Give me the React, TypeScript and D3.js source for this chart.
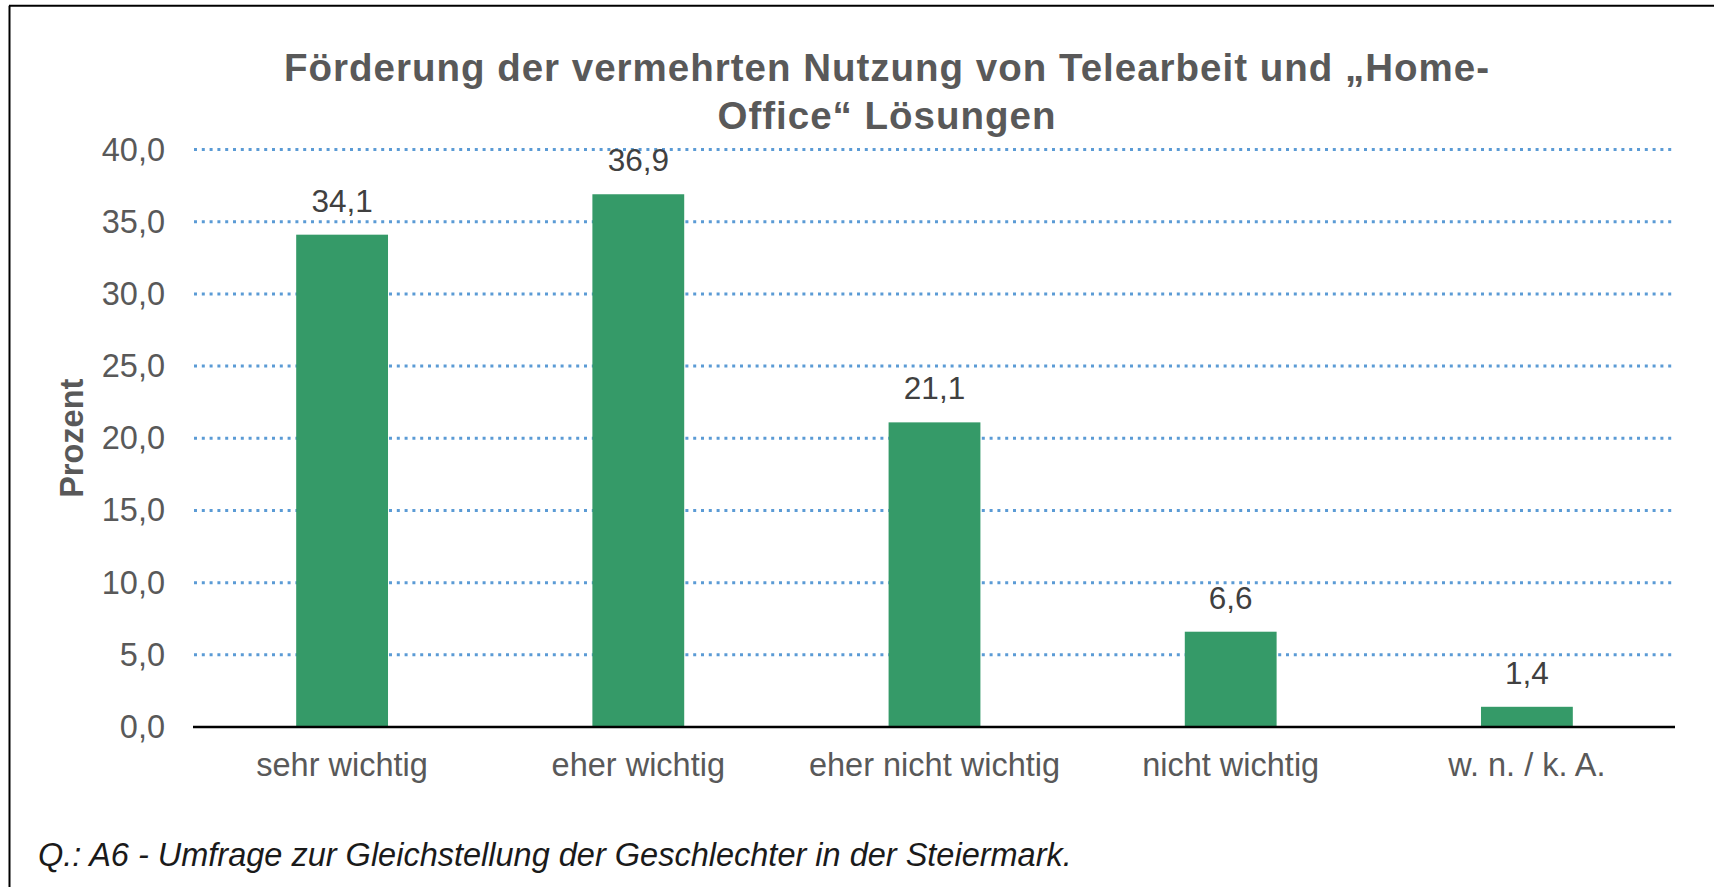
import React from "react";
import * as d3 from "d3";

const categories = ["sehr wichtig", "eher wichtig", "eher nicht wichtig", "nicht wichtig", "w. n. / k. A."];
const values = [34.1, 36.9, 21.1, 6.6, 1.4];
const yTicks = [0, 5, 10, 15, 20, 25, 30, 35, 40];
const titleLines = ["Förderung der vermehrten Nutzung von Telearbeit und „Home-", "Office“ Lösungen"];
const yAxisTitle = "Prozent";
const footer = "Q.: A6 - Umfrage zur Gleichstellung der Geschlechter in der Steiermark.";

const W = 1714;
const H = 887;
const FONT = "'Liberation Sans', Arial, sans-serif";
const fmt = (v: number) => v.toFixed(1).replace(".", ",");

export default function App() {
  const x = d3.scaleBand<string>().domain(categories).range([194, 1675]).paddingInner(0.69).paddingOuter(0.345);
  const y = d3.scaleLinear().domain([0, 40]).range([727, 149.5]);

  return (
    <svg
      width={W}
      height={H}
      style={{ position: "absolute", left: 0, top: 0, display: "block", background: "#fff" }}
      fontFamily={FONT}
    >
      <rect x={0} y={0} width={W} height={H} fill="#fff" />
      {/* frame */}
      <line x1={9.5} y1={5.7} x2={9.5} y2={H} stroke="#000" strokeWidth={2} />
      <line x1={9} y1={5.7} x2={W} y2={5.7} stroke="#000" strokeWidth={2} />

      {/* title */}
      {titleLines.map((t, i) => (
        <text
          key={i}
          x={887}
          y={81 + i * 48}
          textAnchor="middle"
          fontSize={38.5}
          fontWeight="bold"
          fill="#595959"
          letterSpacing={1}
        >
          {t}
        </text>
      ))}

      {/* gridlines */}
      {yTicks.filter((t) => t > 0).map((t) => (
        <line
          key={t}
          x1={194}
          x2={1673}
          y1={y(t)}
          y2={y(t)}
          stroke="#5B9BD5"
          strokeWidth={3}
          strokeDasharray="3 4.8"
        />
      ))}

      {/* y tick labels */}
      {yTicks.map((t) => (
        <text key={t} x={165} y={y(t) + 11} textAnchor="end" fontSize={32.5} fill="#595959">
          {fmt(t)}
        </text>
      ))}

      {/* y axis title */}
      <text
        transform={`translate(83, ${(y(0) + y(40)) / 2}) rotate(-90)`}
        textAnchor="middle"
        fontSize={32.5}
        fontWeight="bold"
        fill="#595959"
      >
        {yAxisTitle}
      </text>

      {/* bars */}
      {categories.map((c, i) => (
        <rect
          key={c}
          x={x(c)}
          y={y(values[i])}
          width={x.bandwidth()}
          height={y(0) - y(values[i])}
          fill="#359A68"
        />
      ))}

      {/* data labels */}
      {categories.map((c, i) => (
        <text
          key={c}
          x={(x(c) as number) + x.bandwidth() / 2}
          y={y(values[i]) - 23}
          textAnchor="middle"
          fontSize={31.5}
          fill="#404040"
        >
          {fmt(values[i])}
        </text>
      ))}

      {/* x axis line */}
      <line x1={193} x2={1675} y1={y(0)} y2={y(0)} stroke="#000" strokeWidth={2.5} />

      {/* category labels */}
      {categories.map((c) => (
        <text
          key={c}
          x={(x(c) as number) + x.bandwidth() / 2}
          y={776}
          textAnchor="middle"
          fontSize={32.5}
          fill="#595959"
        >
          {c}
        </text>
      ))}

      {/* footer */}
      <text x={38} y={866} fontSize={32.5} fontStyle="italic" fill="#1a1a1a">
        {footer}
      </text>
    </svg>
  );
}
